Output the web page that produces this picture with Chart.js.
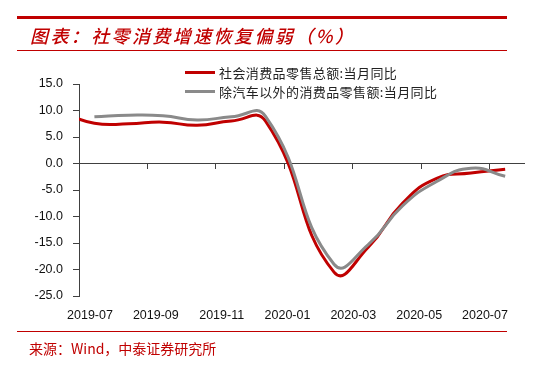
<!DOCTYPE html>
<html>
<head>
<meta charset="utf-8">
<script src="https://cdn.jsdelivr.net/npm/chart.js@4.4.1/dist/chart.umd.min.js"></script>
<style>
  html, body { margin: 0; padding: 0; background: #fff; }
  #wrap { position: relative; width: 546px; height: 367px; overflow: hidden; background: #fff; }
  #chart { position: absolute; left: 0; top: 0; }
  .rule { position: absolute; left: 17px; width: 490px; background: #C00000; }
  .title { position: absolute; left: 30px; top: 23px; font: italic 500 18px "Noto Sans CJK SC"; line-height: 24px;
           color: #C00000; letter-spacing: 2.4px; white-space: nowrap; }
  .source { position: absolute; left: 29px; top: 339px; font: 14px "Noto Sans CJK SC"; line-height: 18px;
            color: #C00000; white-space: nowrap; }
  .legend { position: absolute; left: 185px; top: 63px; font: 13px "Noto Sans CJK SC"; color: #222; letter-spacing: 0.4px; }
  .legend div { height: 19px; display: flex; align-items: center; white-space: nowrap; }
  .legend .swatch { display: inline-block; width: 30px; height: 3px; margin-right: 4px; }
</style>
</head>
<body>
<div id="wrap">
  <canvas id="chart" width="546" height="367"></canvas>
  <div class="rule" style="top:16px;height:3px"></div>
  <div class="title">图表：社零消费增速恢复偏弱（%）</div>
  <div class="rule" style="top:50px;height:1px"></div>
  <div class="legend" id="legend"></div>
  <div class="rule" style="top:331px;height:1px"></div>
  <div class="source">来源：Wind，中泰证券研究所</div>
</div>
<script>
// monthly data, Jan 2020 is published together with Feb
const months = ['2019-06', '2019-07', '2019-08', '2019-09', '2019-10', '2019-11', '2019-12',
  '2020-01', '2020-02', '2020-03', '2020-04', '2020-05', '2020-06', '2020-07'];
const retailTotal = [9.8, 7.6, 7.5, 7.8, 7.2, 8.0, 8.0, null, -20.5, -15.8, -7.5, -2.8, -1.8, -1.1];
const retailExAuto = [null, 8.8, 9.1, 9.0, 8.2, 8.8, 8.9, null, -19.0, -15.3, -8.0, -3.4, -0.9, -2.4];
const seriesNames = ['社会消费品零售总额:当月同比', '除汽车以外的消费品零售额:当月同比'];
const seriesColors = ['#C00000', '#8A8A8A'];
const tickLabels = ['2019-07', '2019-09', '2019-11', '2020-01', '2020-03', '2020-05', '2020-07'];
const yTicks = [15, 10, 5, 0, -5, -10, -15, -20, -25];

// x in months from 2019-07-01, points sit mid-month
const toPoints = (values) => months.map((m, i) => ({ x: i - 1 + 0.45, y: values[i] }));
const setTicks = (s) => { s.ticks = tickLabels.map((_, i) => ({ value: i * 2 })); };
const tickFont = { family: 'Liberation Sans', size: 12.5 };
const axisColor = '#404040';

const legendEl = document.getElementById('legend');
seriesNames.forEach((name, i) => {
  const row = document.createElement('div');
  row.innerHTML = '<span class="swatch" style="background:' + seriesColors[i] + '"></span>' + name;
  legendEl.appendChild(row);
});

new Chart(document.getElementById('chart').getContext('2d'), {
  type: 'line',
  data: {
    datasets: [
      { label: seriesNames[1], data: toPoints(retailExAuto), borderColor: seriesColors[1], order: 0 },
      { label: seriesNames[0], data: toPoints(retailTotal), borderColor: seriesColors[0], order: 1 }
    ]
  },
  options: {
    responsive: false,
    animation: false,
    layout: { padding: { top: 84, right: 22, bottom: 0, left: 0 } },
    plugins: { legend: { display: false }, tooltip: { enabled: false } },
    elements: {
      point: { radius: 0 },
      line: { borderWidth: 3, tension: 0.5, fill: false }
    },
    datasets: { line: { spanGaps: true, clip: 0, xAxisID: 'x', yAxisID: 'y' } },
    scales: {
      x: {
        type: 'linear',
        position: { y: 0 },
        min: 0,
        max: 13,
        afterBuildTicks: setTicks,
        afterFit: (s) => { s.height = 0; },
        ticks: { display: false },
        grid: { drawOnChartArea: false, drawTicks: true, tickLength: 5, color: axisColor },
        border: { color: axisColor, width: 1 }
      },
      xl: {
        type: 'linear',
        axis: 'x',
        position: 'bottom',
        min: -0.334,
        max: 13.185,
        afterBuildTicks: setTicks,
        afterFit: (s) => { s.height = 71; },
        ticks: {
          autoSkip: false,
          maxRotation: 0,
          padding: 4,
          color: '#111',
          font: tickFont,
          callback: (v) => tickLabels[Math.round(v / 2)]
        },
        grid: { display: false },
        border: { display: false }
      },
      y: {
        position: 'left',
        min: -25,
        max: 15,
        afterBuildTicks: (s) => { s.ticks = yTicks.map(v => ({ value: v })); },
        afterFit: (s) => { s.width = 79; },
        ticks: { padding: 10, color: '#111', font: tickFont, callback: (v) => v.toFixed(1) },
        grid: { drawOnChartArea: false, drawTicks: true, tickLength: 6, color: axisColor },
        border: { color: axisColor, width: 1 }
      }
    }
  }
});
</script>
</body>
</html>
